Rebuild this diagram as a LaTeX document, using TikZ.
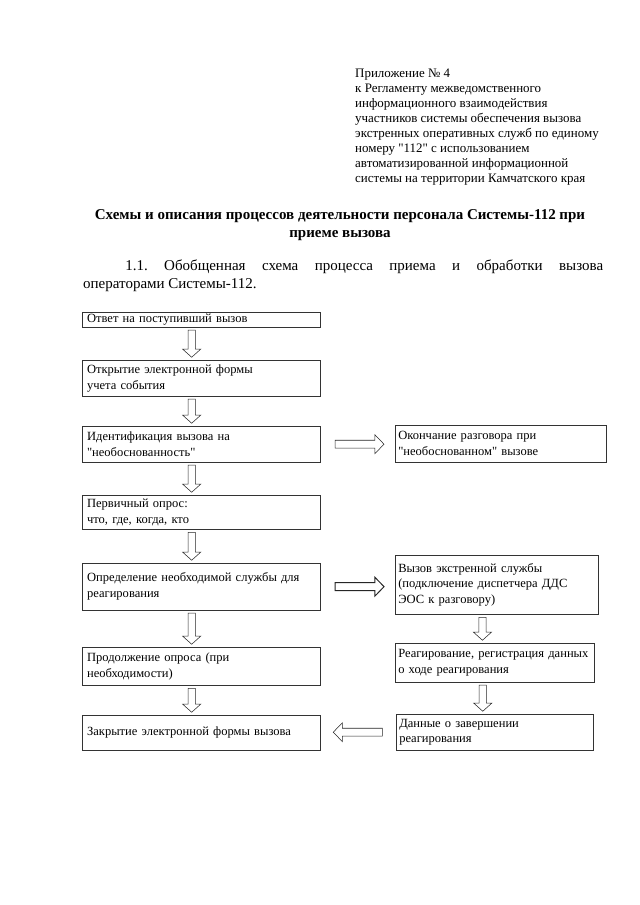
\documentclass[tikz,border=0pt]{standalone}
\usepackage{fontspec}
\setmainfont{Liberation Serif}[Ligatures=TeXOff]
\usetikzlibrary{calc}

\begin{document}
\begin{tikzpicture}[
        x=0.328125mm, y=-0.328125mm, % 1 единица = 1 пиксель листа
        box/.style={draw=black!80, line width=0.4pt, anchor=north west, align=left,
            inner xsep=1.6mm, inner ysep=0.4mm, font=\fontsize{11.7}{14.8}\selectfont}, % Стиль блоков
        blk/.style={draw=black!85, line width=0.5pt, fill=white}, % Контурная стрелка
        blkdown/.style={to path={let \p1=(\tikztostart), \p2=(\tikztotarget) in
            (\x1-1.2mm,\y1-0.9mm) -- (\x1-1.2mm,\y2+3.6mm) -- (\x1-3mm,\y2+3.6mm) -- (\x1,\y2+0.9mm)
            -- (\x1+3mm,\y2+3.6mm) -- (\x1+1.2mm,\y2+3.6mm) -- (\x1+1.2mm,\y1-0.9mm) -- cycle}},
        blkright/.style={to path={let \p1=(\tikztostart), \p2=(\tikztotarget) in
            (\x1+4.8mm,\y1+1.3mm) -- (\x2-6.6mm,\y1+1.3mm) -- (\x2-6.6mm,\y1+3.1mm) -- (\x2-3.6mm,\y1)
            -- (\x2-6.6mm,\y1-3.1mm) -- (\x2-6.6mm,\y1-1.3mm) -- (\x1+4.8mm,\y1-1.3mm) -- cycle}},
        blkleft/.style={to path={let \p1=(\tikztostart), \p2=(\tikztotarget) in
            (\x1-4.5mm,\y1+1.3mm) -- (\x2+7.2mm,\y1+1.3mm) -- (\x2+7.2mm,\y1+3.1mm) -- (\x2+4.2mm,\y1)
            -- (\x2+7.2mm,\y1-3.1mm) -- (\x2+7.2mm,\y1-1.3mm) -- (\x1-4.5mm,\y1-1.3mm) -- cycle}},
    ]
    \useasboundingbox (0,0) rectangle (640,905);

    % Шапка и заголовок
    \node[anchor=north west, align=left, inner sep=0pt, font=\fontsize{12.1}{14}\selectfont] (prilozh) at (355,69)
        {Приложение № 4\\к Регламенту межведомственного\\информационного взаимодействия\\участников системы обеспечения вызова\\экстренных оперативных служб по единому\\номеру "112" с использованием\\автоматизированной информационной\\системы на территории Камчатского края};
    \node[anchor=north, align=center, inner sep=0pt, font=\fontsize{14}{16.8}\selectfont\bfseries] (title) at (340,209)
        {Схемы и описания процессов деятельности персонала Системы-112 при\\приеме вызова};
    \node[anchor=north west, align=justify, inner sep=0pt, text width=170.6mm, font=\fontsize{14}{16.8}\selectfont\frenchspacing] (punkt) at (83,260)
        {\hspace*{13.8mm}1.1. Обобщенная схема процесса приема и обработки вызова\linebreak операторами Системы-112.};

    % Левая колонка
    \node[box, text width=74.9mm, minimum height=4.9mm] (otvet) at (82,312) {Ответ на поступивший вызов};
    \node[box, text width=74.9mm, minimum height=11.8mm] (forma) at (82,360) {Открытие электронной формы\\учета события};
    \node[box, text width=74.9mm, minimum height=11.8mm] (ident) at (82,426) {Идентификация вызова на\\"необоснованность"};
    \node[box, text width=74.9mm, minimum height=11.2mm] (opros) at (82,495) {Первичный опрос:\\что, где, когда, кто};
    \node[box, text width=74.9mm, minimum height=15.4mm] (sluzhba) at (82,563) {Определение необходимой службы для\\реагирования};
    \node[box, text width=74.9mm, minimum height=12.5mm] (prodolzh) at (82,647) {Продолжение опроса (при\\необходимости)};
    \node[box, text width=74.9mm, minimum height=11.5mm] (zakrytie) at (82,715) {Закрытие электронной формы вызова};

    % Правая колонка
    \node[box, inner xsep=1mm, text width=67.2mm, minimum height=12.1mm] (okonch) at (395,425) {Окончание разговора при\\"необоснованном" вызове};
    \node[box, inner xsep=1mm, text width=64.6mm, minimum height=19.4mm] (vyzov) at (395,555) {Вызов экстренной службы\\(подключение диспетчера ДДС\\ЭОС к разговору)};
    \node[box, inner xsep=1mm, text width=63.3mm, minimum height=12.8mm] (reag) at (395,643) {Реагирование, регистрация данных\\о ходе реагирования};
    \node[box, inner xsep=1mm, text width=62.6mm, minimum height=11.8mm] (dannye) at (396,714) {Данные о завершении\\реагирования};

    % Стрелки
    \draw[blk] ($(otvet.south west)!0.46!(otvet.south east)$) to[blkdown] (forma.north);
    \draw[blk] ($(forma.south west)!0.46!(forma.south east)$) to[blkdown] (ident.north);
    \draw[blk] ($(ident.south west)!0.46!(ident.south east)$) to[blkdown] (opros.north);
    \draw[blk] ($(opros.south west)!0.46!(opros.south east)$) to[blkdown] (sluzhba.north);
    \draw[blk] ($(sluzhba.south west)!0.46!(sluzhba.south east)$) to[blkdown] (prodolzh.north);
    \draw[blk] ($(prodolzh.south west)!0.46!(prodolzh.south east)$) to[blkdown] (zakrytie.north);
    \draw[blk] ($(vyzov.south west)!0.43!(vyzov.south east)$) to[blkdown] (reag.north);
    \draw[blk] ($(reag.south west)!0.44!(reag.south east)$) to[blkdown] (dannye.north);
    \draw[blk] (ident.east) to[blkright] (okonch.west);
    \draw[blk, line width=0.9pt] (sluzhba.east) to[blkright] (vyzov.west);
    \draw[blk] (dannye.west) to[blkleft] (zakrytie.east);
\end{tikzpicture}
\end{document}
